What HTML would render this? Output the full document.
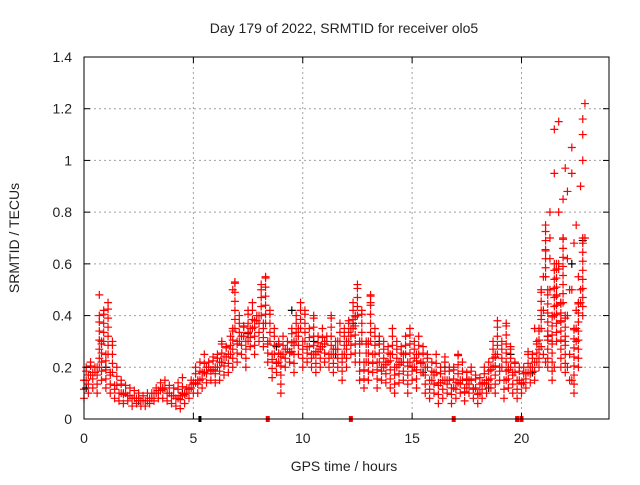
<!DOCTYPE html>
<html><head><meta charset="utf-8"><style>
body{margin:0;background:#fff;}
svg text{font-family:"Liberation Sans",sans-serif;font-size:14px;fill:#222;}
</style></head><body>
<svg id="chart" width="640" height="480" xmlns="http://www.w3.org/2000/svg">
<rect width="640" height="480" fill="#fff"/>
<g id="grid"></g>
<g id="marks"></g>
<rect x="84" y="57" width="525" height="362" fill="none" stroke="#000" stroke-width="1"/>
<g id="ticks"></g>
<text x="344" y="33" text-anchor="middle">Day 179 of 2022, SRMTID for receiver olo5</text>
<text x="344" y="471" text-anchor="middle">GPS time / hours</text>
<text x="19" y="238" text-anchor="middle" transform="rotate(-90 19 238)">SRMTID / TECUs</text>
</svg>
<script>
const xTicks=[0,5,10,15,20];
const yTicks=[0,0.2,0.4,0.6,0.8,1,1.2,1.4];
const yTickLabels=["0","0.2","0.4","0.6","0.8","1","1.2","1.4"];
const redT=[0,0.2,0.4,0.6,0.8,1.0,1.2,1.4,1.6,1.8,2.0,2.2,2.4,2.6,2.8,3.0,3.2,3.4,3.6,3.8,4.0,4.2,4.4,4.6,4.8,5.0,5.2,5.4,5.6,5.8,6.0,6.2,6.4,6.6,6.8,7.0,7.2,7.4,7.6,7.8,8.0,8.2,8.4,8.6,8.8,9.0,9.2,9.4,9.6,9.8,10.0,10.2,10.4,10.6,10.8,11.0,11.2,11.4,11.6,11.8,12.0,12.2,12.4,12.6,12.8,13.0,13.2,13.4,13.6,13.8,14.0,14.2,14.4,14.6,14.8,15.0,15.2,15.4,15.6,15.8,16.0,16.2,16.4,16.6,16.8,17.0,17.2,17.4,17.6,17.8,18.0,18.2,18.4,18.6,18.8,19.0,19.2,19.4,19.6,19.8,20.0,20.2,20.4,20.6,20.8,21.0,21.2,21.4,21.6,21.8,22.0,22.2,22.4,22.6,22.8];
const redLow=[.08,.1,.12,.1,.15,.12,.1,.08,.07,.06,.07,.05,.06,.05,.05,.06,.07,.08,.08,.07,.06,.05,.04,.06,.08,.1,.1,.12,.14,.15,.14,.15,.17,.18,.2,.22,.25,.2,.28,.25,.3,.28,.22,.16,.18,.1,.2,.22,.18,.25,.2,.22,.2,.18,.2,.22,.2,.18,.2,.15,.2,.25,.22,.15,.12,.15,.18,.12,.15,.14,.12,.1,.14,.15,.1,.15,.12,.18,.1,.08,.1,.06,.08,.1,.06,.08,.1,.07,.1,.08,.06,.08,.1,.12,.1,.15,.08,.12,.1,.08,.1,.12,.14,.15,.2,.25,.2,.15,.3,.2,.18,.15,.1,.2,.4];
const redMid=[.15,.17,.18,.2,.3,.25,.18,.13,.1,.1,.09,.08,.08,.07,.07,.08,.1,.11,.12,.1,.09,.08,.09,.1,.12,.14,.15,.18,.2,.19,.2,.22,.24,.25,.35,.3,.32,.3,.35,.38,.4,.37,.3,.25,.22,.25,.27,.26,.3,.35,.3,.28,.25,.26,.28,.3,.25,.27,.3,.25,.3,.35,.4,.3,.22,.3,.25,.22,.2,.22,.25,.2,.22,.25,.22,.2,.25,.22,.2,.15,.18,.14,.15,.15,.12,.14,.15,.12,.15,.12,.1,.14,.15,.2,.25,.2,.15,.2,.18,.15,.14,.18,.2,.22,.35,.55,.5,.4,.6,.45,.4,.5,.35,.45,.7];
const redHigh=[.2,.22,.2,.4,.42,.45,.3,.2,.15,.13,.12,.11,.1,.09,.1,.1,.12,.14,.15,.13,.12,.14,.16,.12,.15,.2,.22,.25,.22,.24,.25,.3,.28,.32,.53,.4,.36,.42,.45,.4,.5,.55,.42,.35,.3,.32,.3,.35,.4,.45,.42,.35,.4,.32,.35,.32,.4,.3,.37,.35,.38,.45,.52,.42,.3,.48,.35,.32,.3,.28,.35,.3,.28,.32,.35,.3,.32,.28,.25,.22,.25,.2,.24,.2,.2,.25,.22,.18,.2,.17,.16,.2,.22,.3,.38,.3,.37,.28,.22,.2,.2,.26,.25,.3,.5,.75,.8,.6,1.15,.7,.88,.95,.75,.9,1.22];
const extraT=[21.5,21.5,22.0,22.3,22.8,22.8,22.8,21.7,22.4,20.6,21.1,21.9,22.6,0.7,6.8,8.1,13.1,21.3,22.1,20.9,21.0,21.2,21.4,21.6,21.8,22.0,22.2,22.5,22.7,21.1,21.3,21.7,22.1,22.5,20.9,21.5,22.3];
const extraV=[1.12,.95,.97,1.05,1.1,1.16,1.0,.8,.68,.35,.65,.85,.55,.48,.5,.52,.45,.7,.62,.28,.42,.32,.3,.48,.38,.3,.25,.42,.5,.22,.62,.58,.2,.3,.4,.2,.15];
const blackT=[0.1,1.0,2.5,4.5,5.5,6.3,7.5,8.8,9.5,10.5,11.5,12.3,13.5,14.5,15.5,16.5,17.5,18.5,19.5,20.5,21.2,21.8,22.3,22.8];
const blackV=[.12,.2,.07,.1,.18,.22,.33,.28,.42,.3,.25,.37,.3,.22,.18,.2,.15,.12,.25,.18,.32,.45,.6,.69];
const zeroRedT=[8.4,12.2,16.9,19.8,20.0];
const zeroBlackT=[5.3];

const X0=84,X1=609,Y0=419,Y1=57,XMAX=24,YMAX=1.4;
const sx=v=>X0+v/XMAX*(X1-X0);
const sy=v=>Y0-v/YMAX*(Y0-Y1);
const NS="http://www.w3.org/2000/svg";
const grid=document.getElementById('grid'),ticks=document.getElementById('ticks'),marks=document.getElementById('marks');
function mk(tag,attrs,parent){const e=document.createElementNS(NS,tag);for(const k in attrs)e.setAttribute(k,attrs[k]);parent.appendChild(e);return e;}
xTicks.forEach(t=>{
  const x=sx(t);
  if(t>0){const g=mk('line',{x1:x,x2:x,y1:Y1,y2:Y0,stroke:'#a0a0a0','stroke-dasharray':'2,3'},grid);
  
  }
  mk('line',{x1:x,x2:x,y1:Y0,y2:Y0-6,stroke:'#000'},ticks);
  mk('line',{x1:x,x2:x,y1:Y1,y2:Y1+6,stroke:'#000'},ticks);
  const l=mk('text',{x:x,y:Y0+24,'text-anchor':'middle'},ticks);l.textContent=t;
  
  
});
yTicks.forEach((t,i)=>{
  const y=sy(t);
  if(t>0&&t<YMAX){const g=mk('line',{x1:X0,x2:X1,y1:y,y2:y,stroke:'#a0a0a0','stroke-dasharray':'2,3'},grid);
  
  }
  mk('line',{x1:X0,x2:X0+6,y1:y,y2:y,stroke:'#000'},ticks);
  mk('line',{x1:X1,x2:X1-6,y1:y,y2:y,stroke:'#000'},ticks);
  const l=mk('text',{x:X0-12,y:y+5,'text-anchor':'end'},ticks);l.textContent=yTickLabels[i];
  
  
});
function cross(t,v,color){
  const x=sx(t),y=sy(v);
  const p=mk('path',{d:`M${x-4} ${y}H${x+4}M${x} ${y-4}V${y+4}`,stroke:color,'stroke-width':1.2,fill:'none'},marks);
  
  
}
function stack(t,a,b,color){
  const lo=Math.min(a,b),hi=Math.max(a,b);
  if(hi-lo>0.3){cross(t,lo,color);cross(t,hi,color);return;}
  for(let v=lo;v<hi;v+=0.035)cross(t,v,color);
  cross(t,hi,color);
}
blackT.forEach((t,i)=>cross(t,blackV[i],'#000'));
redT.forEach((t,i)=>{stack(t,redLow[i],redMid[i],'#f00');stack(t+0.1,redMid[i],redHigh[i],'#f00');});
extraT.forEach((t,i)=>cross(t,extraV[i],'#f00'));
zeroRedT.forEach(t=>{const r=mk('rect',{x:sx(t)-2,y:Y0-3,width:4,height:6,fill:'#f00'},marks);
  
  });
zeroBlackT.forEach(t=>{const r=mk('rect',{x:sx(t)-1.5,y:Y0-3,width:3,height:6,fill:'#000'},marks);
  
  });
</script>
</body></html>
